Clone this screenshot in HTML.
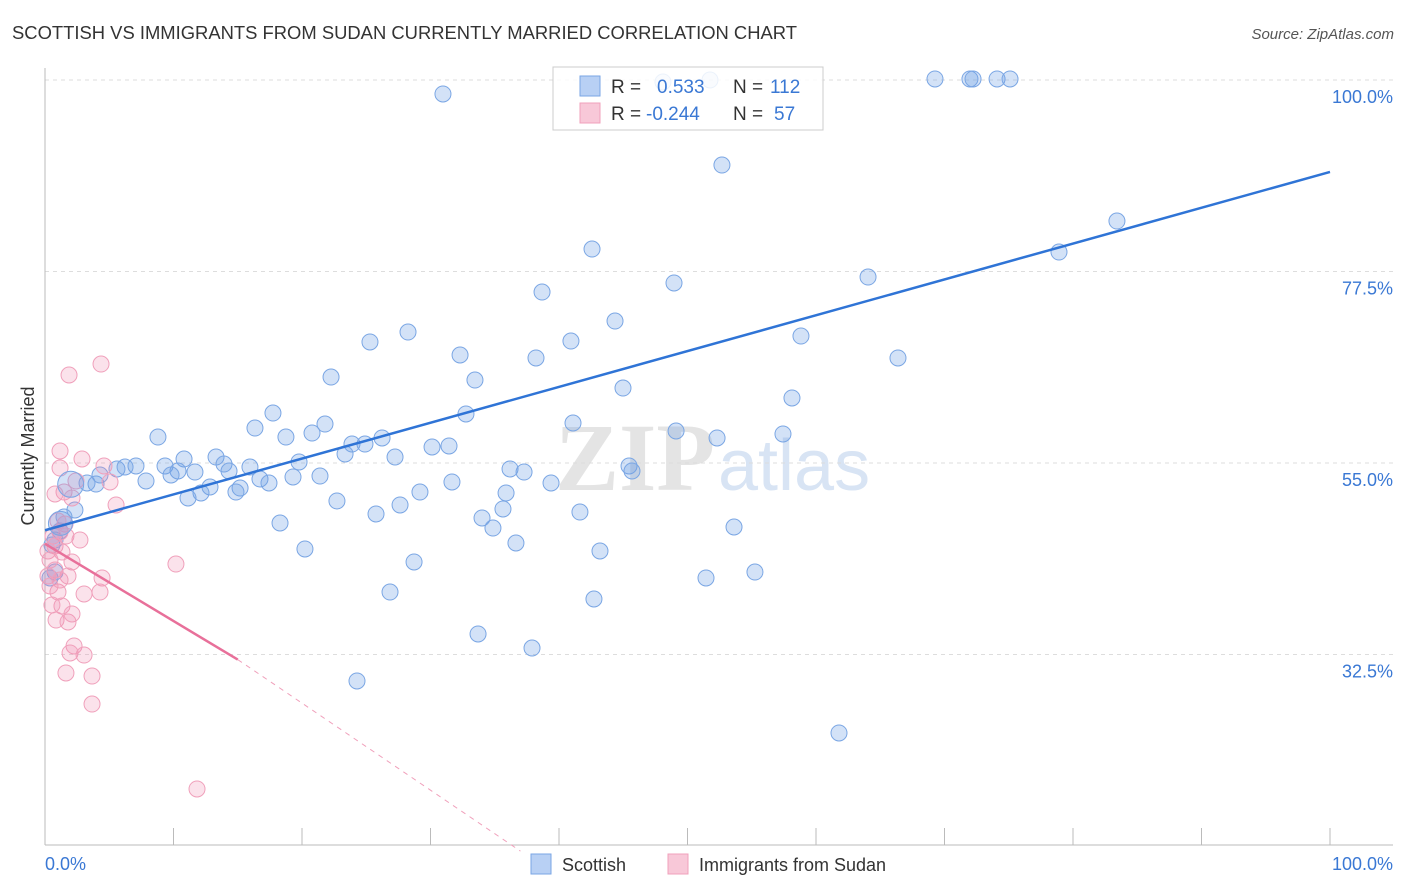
<!DOCTYPE html>
<html><head><meta charset="utf-8"><style>
body{margin:0;background:#fff;font-family:"Liberation Sans",sans-serif}
svg{display:block}
</style></head><body>
<svg id="c" width="1406" height="892">
<text x="12" y="39" font-size="18" fill="#333" textLength="785" lengthAdjust="spacingAndGlyphs">SCOTTISH VS IMMIGRANTS FROM SUDAN CURRENTLY MARRIED CORRELATION CHART</text>
<text x="1394" y="39" font-size="15" fill="#555" text-anchor="end" font-style="italic">Source: ZipAtlas.com</text>
<text x="555" y="490" font-size="96" fill="#e4e4e4" font-family="Liberation Serif" font-weight="bold">ZIP</text>
<text x="718" y="490" font-size="72" fill="#d8e4f4">atlas</text>
<g id="grid"></g><g id="marks"></g>
<text transform="translate(34,456) rotate(-90)" font-size="18" fill="#333" text-anchor="middle">Currently Married</text>
<text x="45" y="870" font-size="18" fill="#3a78d4">0.0%</text>
<text x="1393" y="870" font-size="18" fill="#3a78d4" text-anchor="end">100.0%</text>
<g>
<rect x="553" y="67" width="270" height="63" fill="rgba(255,255,255,0.85)" stroke="#ccc"/>
<rect x="580" y="76" width="20" height="20" fill="#b8d0f4" stroke="#7aa6e4"/>
<rect x="580" y="103" width="20" height="20" fill="#f8c8d8" stroke="#f0a0bb"/>
<text x="611" y="93" font-size="19" fill="#333">R =</text>
<text x="657" y="93" font-size="19" fill="#3a78d4">0.533</text>
<text x="733" y="93" font-size="19" fill="#333">N =</text>
<text x="770" y="93" font-size="19" fill="#3a78d4">112</text>
<text x="611" y="120" font-size="19" fill="#333">R =</text>
<text x="646" y="120" font-size="19" fill="#3a78d4">-0.244</text>
<text x="733" y="120" font-size="19" fill="#333">N =</text>
<text x="774" y="120" font-size="19" fill="#3a78d4">57</text>
</g>
<g>
<rect x="531" y="854" width="20" height="20" fill="#b8d0f4" stroke="#7aa6e4"/>
<text x="562" y="871" font-size="18" fill="#333">Scottish</text>
<rect x="668" y="854" width="20" height="20" fill="#f8c8d8" stroke="#f0a0bb"/>
<text x="699" y="871" font-size="18" fill="#333">Immigrants from Sudan</text>
</g>
</svg>
<script>
const yTicks=[100,77.5,55,32.5];
const yTickLabels=["100.0%","77.5%","55.0%","32.5%"];
const xTicks=[0,10,20,30,40,50,60,70,80,90,100];
const bluePx=[[443,94],[663,82],[710,80],[935,79],[970,79],[973,79],[997,79],[1010,79],[722,165],[1117,221],[1059,252],[592,249],[868,277],[674,283],[542,292],[615,321],[408,332],[370,342],[571,341],[801,336],[460,355],[536,358],[898,358],[331,377],[475,380],[623,388],[792,398],[273,413],[466,414],[573,423],[255,428],[325,424],[312,433],[158,437],[286,437],[676,431],[717,438],[783,434],[352,444],[365,444],[382,438],[432,447],[449,446],[216,457],[184,459],[345,454],[395,457],[299,462],[224,464],[136,466],[165,466],[178,471],[195,472],[250,467],[117,469],[125,467],[229,471],[629,466],[632,471],[510,469],[524,472],[146,481],[171,475],[260,479],[269,483],[293,477],[320,476],[452,482],[551,483],[96,484],[87,483],[100,475],[210,487],[240,488],[201,493],[236,492],[188,498],[420,492],[506,493],[337,501],[400,505],[503,509],[376,514],[580,512],[482,518],[493,528],[280,523],[734,527],[516,543],[305,549],[600,551],[414,562],[706,578],[755,572],[390,592],[594,599],[478,634],[532,648],[357,681],[839,733],[75,510],[64,517],[60,531],[55,540],[52,545],[55,572],[50,578]];
const pinkPx=[[69,375],[101,364],[60,451],[82,459],[60,468],[104,466],[110,482],[76,481],[64,492],[55,494],[116,505],[72,498],[65,524],[58,521],[60,532],[66,536],[53,536],[55,546],[48,551],[62,552],[50,560],[72,562],[55,570],[48,576],[68,576],[102,578],[176,564],[58,592],[84,594],[100,592],[62,606],[56,620],[68,622],[72,614],[52,605],[74,646],[70,653],[84,655],[66,673],[92,676],[92,704],[197,789],[60,580],[50,586],[80,540]];
const blueX=bluePx.map(p=>+((p[0]-45)/12.85).toFixed(2));
const blueY=bluePx.map(p=>+(100-(p[1]-80)/191.5*22.5).toFixed(2));
const pinkX=pinkPx.map(p=>+((p[0]-45)/12.85).toFixed(2));
const pinkY=pinkPx.map(p=>+(100-(p[1]-80)/191.5*22.5).toFixed(2));
const blueTrend=[[0,47.1],[100,89.2]];
const pinkTrend=[[0,45.5],[15,31.9],[37,9.4]];
function X(v){return 45+v*12.85}
function Y(v){return 80+(100-v)/22.5*191.5}
const NS="http://www.w3.org/2000/svg";
const grid=document.getElementById('grid'),marks=document.getElementById('marks');
function mk(tag,a,p){const e=document.createElementNS(NS,tag);for(const k in a)e.setAttribute(k,a[k]);p.appendChild(e);return e}
yTicks.forEach((t,i)=>{
 const l=mk('line',{x1:45,x2:1393,y1:Y(t),y2:Y(t),stroke:'#ddd','stroke-dasharray':'4,4'},grid);
 
 
 const tx=mk('text',{x:1393,y:Y(t)+23,'font-size':18,fill:'#3a78d4','text-anchor':'end'},grid);
 tx.textContent=yTickLabels[i];
 
 
});
mk('line',{x1:45,x2:45,y1:68,y2:845,stroke:'#bbb'},grid);
mk('line',{x1:45,x2:1393,y1:845,y2:845,stroke:'#bbb'},grid);
xTicks.forEach(t=>{const l=mk('line',{x1:X(t),x2:X(t),y1:828,y2:845,stroke:'#bbb'},grid);
 
 });
function dots(xs,ys,fill,stroke,name){xs.forEach((x,i)=>{
 const c=mk('circle',{cx:X(x),cy:Y(ys[i]),r:8,fill:fill,stroke:stroke,'stroke-width':1},marks);
 
 });}
dots(blueX,blueY,'rgba(110,160,230,0.3)','#7aa6e4','scottish-point');
dots(pinkX,pinkY,'rgba(240,140,175,0.25)','#f0a0bb','sudan-point');
const b1=mk('circle',{cx:X(2),cy:Y(52.5),r:13,fill:'rgba(110,160,230,0.3)',stroke:'#7aa6e4'},marks);


const b2=mk('circle',{cx:X(1.2),cy:Y(47.9),r:12,fill:'rgba(110,160,230,0.3)',stroke:'#7aa6e4'},marks);


const bl=mk('line',{x1:X(blueTrend[0][0]),y1:Y(blueTrend[0][1]),x2:X(blueTrend[1][0]),y2:Y(blueTrend[1][1]),stroke:'#2f74d6','stroke-width':2.5},marks);


const pl=mk('line',{x1:X(pinkTrend[0][0]),y1:Y(pinkTrend[0][1]),x2:X(pinkTrend[1][0]),y2:Y(pinkTrend[1][1]),stroke:'#e8709a','stroke-width':2.5},marks);


const pd=mk('line',{x1:X(pinkTrend[1][0]),y1:Y(pinkTrend[1][1]),x2:X(pinkTrend[2][0]),y2:Y(pinkTrend[2][1]),stroke:'#f0a0bb','stroke-width':1,'stroke-dasharray':'5,5'},marks);


</script>
</body></html>
